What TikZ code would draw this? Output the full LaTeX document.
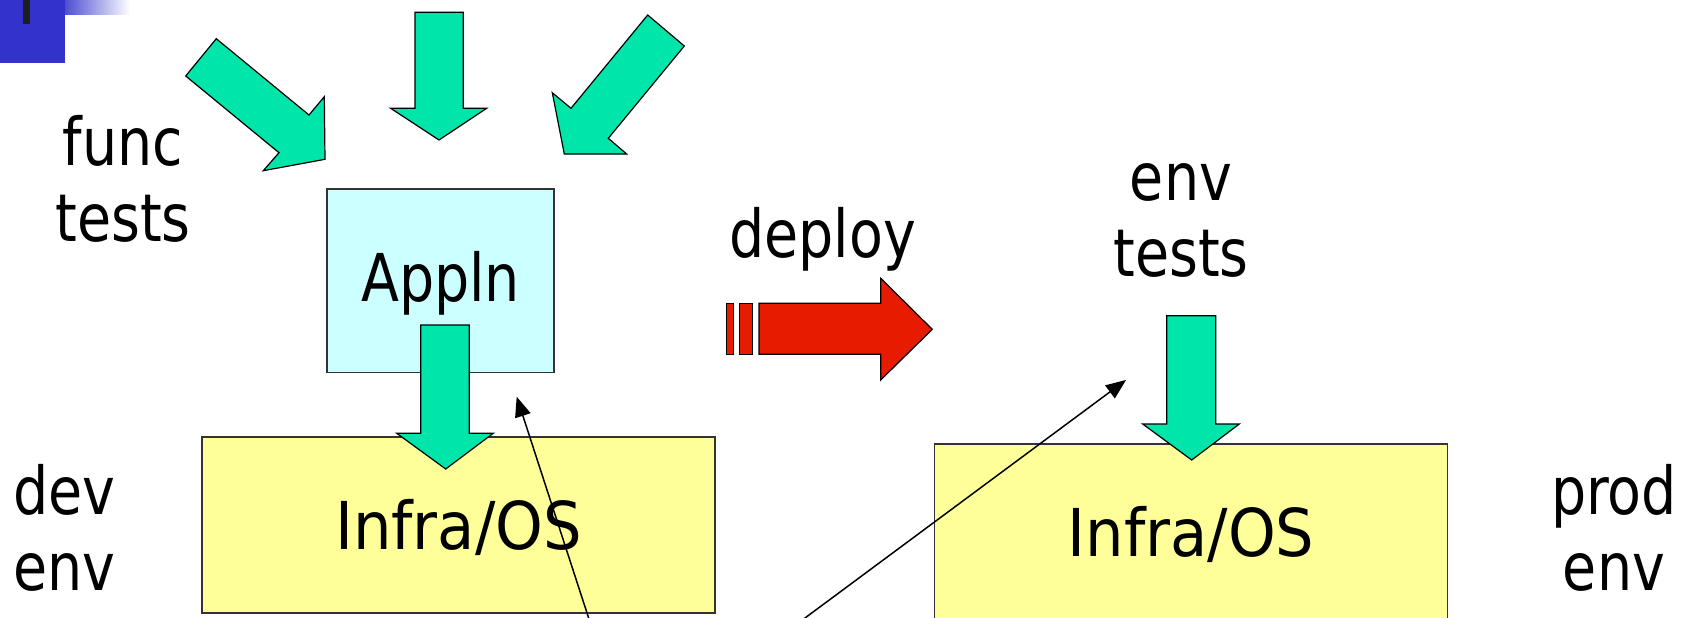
\documentclass[tikz,border=0pt]{standalone}
\usepackage{fontspec}
\setmainfont{DejaVu Sans}[FakeStretch=0.84]
\newfontfamily\wideface{DejaVu Sans}[FakeStretch=0.92]
\usetikzlibrary{arrows.meta}
\definecolor{grn}{RGB}{0,230,170}
\definecolor{cyanbox}{RGB}{204,255,255}
\definecolor{yelbox}{RGB}{255,255,153}
\definecolor{redarr}{RGB}{230,27,0}
\definecolor{bluesq}{RGB}{51,51,204}
\tikzset{
  bigtext/.style={font=\fontsize{33pt}{38pt}\selectfont, inner sep=0pt, align=center, anchor=base},
  boxnode/.style={draw=black!80, line width=0.8pt, inner sep=0pt, font=\fontsize{33pt}{38pt}\selectfont},
  infrabox/.style={boxnode, fill=yelbox, minimum width=256.5pt, minimum height=88pt,
      text height=30pt, text depth=6pt, font=\fontsize{33pt}{38pt}\wideface},
  blockarrow/.style={draw=black, line width=0.6pt, fill=grn, line join=miter},
  ptr/.style={draw=black, line width=0.75pt, -{Triangle[length=10pt,width=8pt]}},
}
\begin{document}
\begin{tikzpicture}[x=0.5pt,y=-0.5pt]
\useasboundingbox (0,0) rectangle (1683,617);
% corner decoration
\shade[left color=bluesq, right color=white] (55,0) rectangle (130,14);
\fill[bluesq] (0,0) rectangle (65,63);
\fill[black!88] (23,0) rectangle (30,24);
% boxes
\node[boxnode, fill=cyanbox, minimum width=113.5pt, minimum height=91.75pt,
      text height=27pt, text depth=6pt] (appln) at (440.5,280.75) {Appln};
\node[infrabox] (infraL) at (458.5,525) {Infra/OS};
\node[infrabox] (infraR) at (1191,532) {Infra/OS};
% thin pointers
\coordinate (p1s) at (595.8,640);
\coordinate (p1e) at (516.7,396.7);
\coordinate (p2s) at (775.3,640);
\coordinate (p2e) at (1126,380);
\draw[ptr] (p1s) -- (p1e);
\draw[ptr] (p2s) -- (p2e);
% green block arrows
\draw[blockarrow] (216.3,38.7) -- (309,115) -- (324.3,96.7) -- (325,159.3) -- (263.3,170.7) -- (279,152.7) -- (185.7,76) -- cycle;
\draw[blockarrow] (415,12.3) -- (463.3,12.3) -- (463.3,108.3) -- (486.7,108.3) -- (439,140) -- (390.7,108.3) -- (415,108.3) -- cycle;
\draw[blockarrow] (647.7,15) -- (684.3,46) -- (608.3,138.3) -- (626.7,154) -- (564.3,154) -- (552.3,92.7) -- (571,108.3) -- cycle;
\draw[blockarrow] (420.7,325) -- (469.3,325) -- (469.3,433.3) -- (493.3,433.3) -- (445.7,469) -- (396.7,433.3) -- (420.7,433.3) -- cycle;
\draw[blockarrow] (1166.7,315.7) -- (1215.7,315.7) -- (1215.7,424) -- (1239.3,424) -- (1191.7,460) -- (1142.7,424) -- (1166.7,424) -- cycle;
% deploy arrow
\draw[draw=black, line width=0.6pt, fill=redarr] (726.7,303.3) rectangle (733.3,354.3);
\draw[draw=black, line width=0.6pt, fill=redarr] (739.3,303.3) rectangle (752.7,354.3);
\draw[draw=black, line width=0.6pt, fill=redarr, line join=miter] (759,303.3) -- (880.7,303.3) -- (880.7,278.3) -- (932.3,329.3) -- (880.7,380) -- (880.7,354.3) -- (759,354.3) -- cycle;
% labels (base anchor = baseline of last line)
\node[bigtext] (func) at (123,241.7) {func\\tests};
\node[bigtext] (deploy) at (822.7,257.6) {deploy};
\node[bigtext] (envt) at (1181,276.7) {env\\tests};
\node[bigtext] (dev) at (64.5,590) {dev\\env};
\node[bigtext] (prod) at (1614,590) {prod\\env};
\end{tikzpicture}
\end{document}
